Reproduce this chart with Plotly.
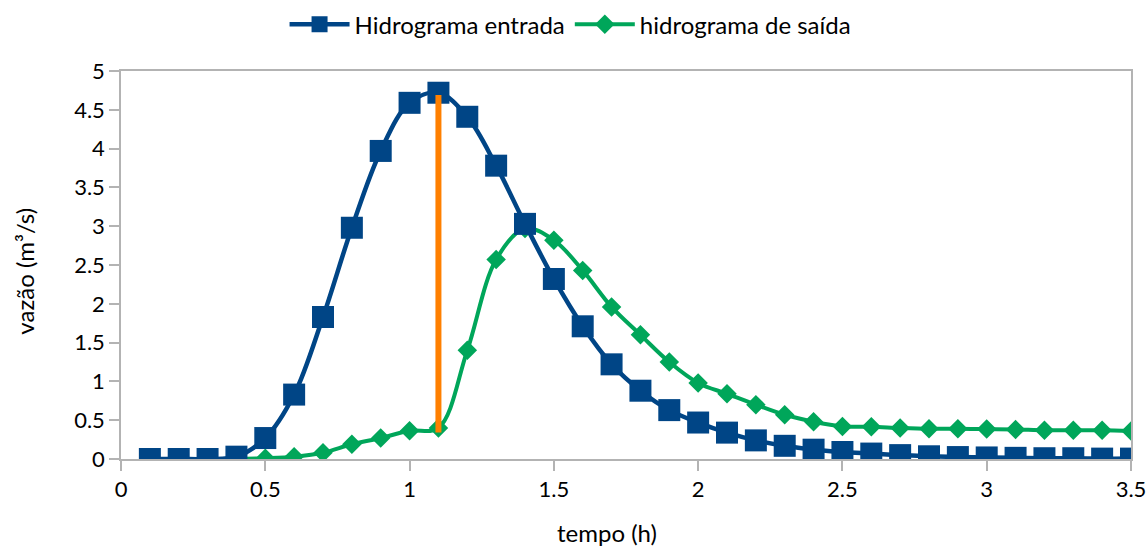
import plotly.graph_objects as go

# Tempo (h) e vazões (m³/s)
tempo = [0.1, 0.2, 0.3, 0.4, 0.5, 0.6, 0.7, 0.8, 0.9, 1.0,
         1.1, 1.2, 1.3, 1.4, 1.5, 1.6, 1.7, 1.8, 1.9, 2.0,
         2.1, 2.2, 2.3, 2.4, 2.5, 2.6, 2.7, 2.8, 2.9, 3.0,
         3.1, 3.2, 3.3, 3.4, 3.5]

hidrograma_entrada = [0.0, 0.0, 0.0, 0.03, 0.27, 0.83, 1.83, 2.98, 3.97, 4.59,
                      4.72, 4.41, 3.78, 3.03, 2.32, 1.71, 1.22, 0.88, 0.63, 0.47,
                      0.34, 0.24, 0.17, 0.12, 0.09, 0.07, 0.05, 0.035, 0.025, 0.02,
                      0.015, 0.01, 0.01, 0.005, 0.005]

hidrograma_saida = [0.0, 0.0, 0.0, 0.0, 0.01, 0.03, 0.08, 0.19, 0.27, 0.365,
                    0.40, 1.40, 2.57, 2.97, 2.82, 2.43, 1.96, 1.60, 1.25, 0.98,
                    0.84, 0.70, 0.57, 0.48, 0.42, 0.415, 0.40, 0.39, 0.39, 0.385,
                    0.38, 0.37, 0.37, 0.37, 0.36]

# Volume armazenado no instante do pico de entrada
instante_pico = [1.1, 1.1]
faixa_pico = [0.34, 4.69]

AZUL = "#004586"
VERDE = "#00A65A"
LARANJA = "#FF8000"
CINZA = "#B3B3B3"
FONTE = "Lato"

fig = go.Figure()

fig.add_trace(go.Scatter(
    x=tempo, y=hidrograma_saida, name="hidrograma de saída",
    mode="lines+markers", line=dict(color=VERDE, width=4, shape="spline"),
    marker=dict(symbol="diamond", size=15, color=VERDE),
    legendrank=2,
))
fig.add_trace(go.Scatter(
    x=tempo, y=hidrograma_entrada, name="Hidrograma entrada",
    mode="lines+markers", line=dict(color=AZUL, width=4.5, shape="spline"),
    marker=dict(symbol="square", size=22, color=AZUL),
    legendrank=1,
))
fig.add_trace(go.Scatter(
    x=instante_pico, y=faixa_pico, mode="lines",
    line=dict(color=LARANJA, width=6), showlegend=False,
))

eixo = dict(
    showgrid=False, zeroline=False, showline=True, linecolor=CINZA, linewidth=1.5,
    mirror=True, ticks="outside", ticklen=10, tickcolor=CINZA, tickwidth=1.5,
    tickfont=dict(family=FONTE, size=22, color="#000000"), dtick=0.5,
    automargin=False,
)

fig.update_layout(
    width=1148, height=546,
    margin=dict(l=121, r=17, t=71, b=87, autoexpand=False),
    paper_bgcolor="white", plot_bgcolor="white",
    font=dict(family=FONTE, size=22, color="#000000"),
    xaxis=dict(range=[0, 3.5], **eixo),
    yaxis=dict(range=[0, 5], **eixo),
    legend=dict(
        orientation="h", xref="container", yref="container",
        x=0.497, xanchor="center", y=0.955, yanchor="middle",
        itemwidth=60, font=dict(family=FONTE, size=24), traceorder="normal",
    ),
    annotations=[
        dict(text="tempo (h)", xref="paper", yref="paper", x=0.481, y=-0.19,
             xanchor="center", yanchor="middle", showarrow=False,
             font=dict(family=FONTE, size=24)),
        dict(text="vazão (m³/s)", xref="paper", yref="paper", x=-0.095, y=0.483,
             xanchor="center", yanchor="middle", textangle=-90, showarrow=False,
             font=dict(family=FONTE, size=24)),
    ],
)

fig.write_html("out.html")
